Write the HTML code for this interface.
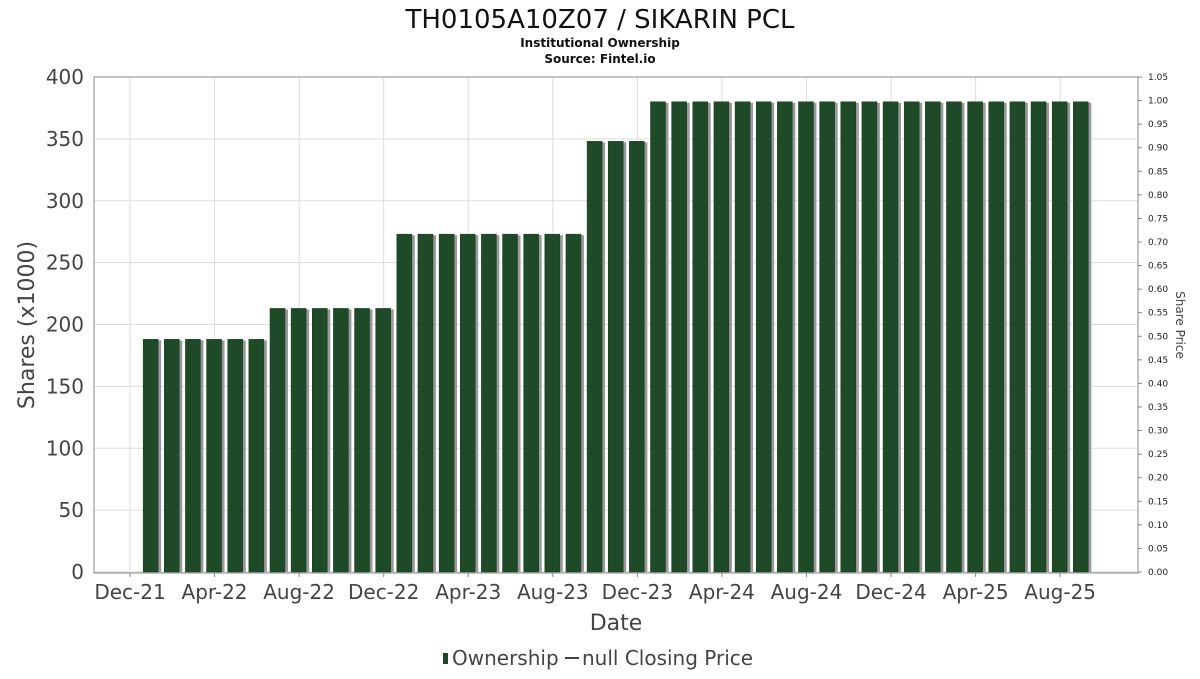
<!DOCTYPE html>
<html><head><meta charset="utf-8"><style>
body{margin:0;background:#fff;font-family:"DejaVu Sans","Liberation Sans",sans-serif}
</style></head><body>
<svg id="c" width="1200" height="675" xmlns="http://www.w3.org/2000/svg">
<rect width="1200" height="675" fill="#fff"/>
<text x="600" y="28" text-anchor="middle" font-size="26" fill="#111">TH0105A10Z07 / SIKARIN PCL</text>
<text x="600" y="47" text-anchor="middle" font-size="12" font-weight="bold" fill="#111">Institutional Ownership</text>
<text x="600" y="63" text-anchor="middle" font-size="12" font-weight="bold" fill="#111">Source: Fintel.io</text>
<g id="grid"></g><g id="bars"></g><g id="axes"></g>
<text x="616" y="630" text-anchor="middle" font-size="22" fill="#444">Date</text>
<text transform="translate(34,325) rotate(-90)" text-anchor="middle" font-size="22" fill="#444">Shares (x1000)</text>
<text transform="translate(1176,325) rotate(90)" text-anchor="middle" font-size="12" fill="#444">Share Price</text>
<g>
<rect x="443" y="653" width="5" height="11" fill="#1e4a27"/>
<text x="452" y="665" font-size="20" fill="#444">Ownership</text>
<line x1="565" y1="658" x2="579" y2="658" stroke="#444" stroke-width="2"/>
<text x="582" y="665" font-size="20" fill="#444">null Closing Price</text>
</g>
</svg>
<script>
const values=[188,188,188,188,188,188,213,213,213,213,213,213,273,273,273,273,273,273,273,273,273,348,348,348,380,380,380,380,380,380,380,380,380,380,380,380,380,380,380,380,380,380,380,380,380];
const yTicks=[0,50,100,150,200,250,300,350,400];
const xTickLabels=["Dec-21","Apr-22","Aug-22","Dec-22","Apr-23","Aug-23","Dec-23","Apr-24","Aug-24","Dec-24","Apr-25","Aug-25"];
const priceTicks=[0,0.05,0.1,0.15,0.2,0.25,0.3,0.35,0.4,0.45,0.5,0.55,0.6,0.65,0.7,0.75,0.8,0.85,0.9,0.95,1.0,1.05];
const NS="http://www.w3.org/2000/svg";
const L=94,R=1138,T=77,B=572;
const y=v=>B-(v/400)*(B-T);
const yp=v=>B-(v/1.05)*(B-T);
const x=m=>130+m*21.14;
function mk(p,t,a){const e=document.createElementNS(NS,t);for(const k in a)e.setAttribute(k,a[k]);p.appendChild(e);return e;}
const g=document.getElementById('grid'),bg=document.getElementById('bars'),ax=document.getElementById('axes');
yTicks.forEach(v=>{const l=mk(g,'line',{x1:L,x2:R,y1:y(v),y2:y(v),stroke:'#ddd'});


const t=mk(ax,'text',{x:84,y:y(v)+7,'text-anchor':'end','font-size':20,fill:'#444'});t.textContent=v;

});
xTickLabels.forEach((s,i)=>{const xx=x(i*4);const l=mk(g,'line',{x1:xx,x2:xx,y1:T,y2:B,stroke:'#ddd'});


mk(ax,'line',{x1:xx,x2:xx,y1:B+1,y2:B+5,stroke:'#888'});
const t=mk(ax,'text',{x:xx,y:599,'text-anchor':'middle','font-size':20,fill:'#444'});t.textContent=s;

});
values.forEach((v,i)=>{const cx=x(i+1);
mk(bg,'rect',{x:cx-5,y:y(v)+1,width:15,height:B-y(v)-1,fill:'#999'});
const r=mk(bg,'rect',{x:cx-8,y:y(v),width:15,height:B-y(v),fill:'#1e4a27',stroke:'#173b1f','stroke-width':0.5});

});
mk(ax,'rect',{x:L,y:T,width:R-L,height:B-T+1,fill:'none',stroke:'#888'});
priceTicks.forEach(v=>{mk(ax,'line',{x1:R,x2:R+4,y1:yp(v),y2:yp(v),stroke:'#888'});
const t=mk(ax,'text',{x:1148,y:yp(v)+3,'font-size':9,fill:'#222'});t.textContent=v.toFixed(2);

});
</script>
</body></html>
